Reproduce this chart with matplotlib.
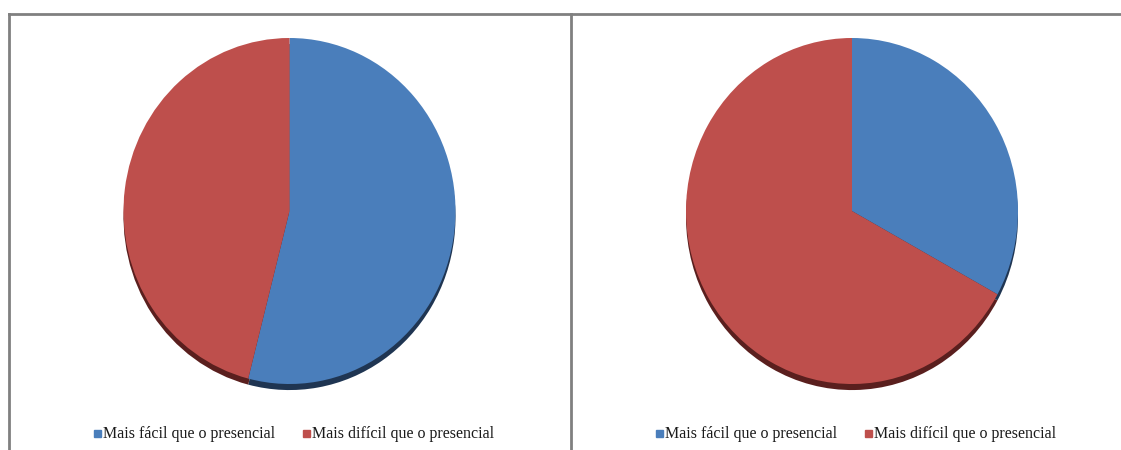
import matplotlib.pyplot as plt
from matplotlib.patches import Rectangle
from matplotlib.lines import Line2D

labels = ["Mais fácil que o presencial", "Mais difícil que o presencial"]
left_values = [54, 46]
right_values = [33, 67]
colors = ["#4A7EBB", "#BE4F4C"]
shadow_colors = ["#1F3552", "#5A1F1E"]

W, H = 1121, 450
fig = plt.figure(figsize=(W / 100, H / 100), dpi=100)
fig.patch.set_facecolor("white")

# moldura dos painéis
frame = fig.add_axes([0, 0, 1, 1])
frame.set_xlim(0, W)
frame.set_ylim(H, 0)
frame.axis("off")
frame.plot([9, W], [14, 14], color="#808080", lw=2)
frame.plot([9, 9], [14, H], color="#808080", lw=2)
frame.plot([571, 571], [14, H], color="#808080", lw=2)


def draw_pie(cx, values, legend_x):
    # pie em px: centro (cx, 211), raio x 166, raio y 173
    rx, ry, cy = 166, 173, 211
    ax = fig.add_axes([(cx - rx) / W, (H - cy - ry) / H, 2 * rx / W, 2 * ry / H])
    # sombra
    ax.pie(values, colors=shadow_colors, startangle=90, counterclock=False,
           radius=1.0, center=(0, -0.035), wedgeprops=dict(linewidth=0))
    ax.pie(values, colors=colors, startangle=90, counterclock=False,
           radius=1.0, wedgeprops=dict(linewidth=0))
    ax.set_aspect("auto")
    ax.set_xlim(-1, 1)
    ax.set_ylim(-1, 1)
    for p in ax.patches:
        p.set_clip_on(False)

    # legenda
    x = legend_x
    for lab, col, dx in zip(labels, colors, [0, 209]):
        frame.add_patch(Rectangle((x + dx - 4, 430), 7, 7, color=col))
        frame.text(x + dx + 5, 433.5, lab, fontsize=11.5, family="Liberation Serif",
                   va="center", ha="left", color="#1a1a1a")


draw_pie(289.5, left_values, 98)
draw_pie(852, right_values, 660)

fig.savefig("out.png", dpi=100)
